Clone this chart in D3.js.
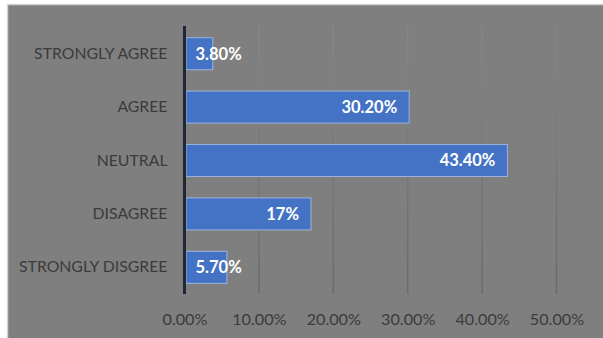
<!DOCTYPE html>
<html>
<head>
<meta charset="utf-8">
<script src="https://cdn.jsdelivr.net/npm/d3@7"></script>
<style>
  html, body { margin: 0; padding: 0; background: #ffffff; }
  svg { display: block; }
  text { font-family: Lato, "Open Sans", sans-serif; }
</style>
</head>
<body>
<script>
// Survey responses, top to bottom
const categories = ["STRONGLY AGREE", "AGREE", "NEUTRAL", "DISAGREE", "STRONGLY DISGREE"];
const values = [3.8, 30.2, 43.4, 17, 5.7];
const valueLabels = ["3.80%", "30.20%", "43.40%", "17%", "5.70%"];
const tickValues = [0, 10, 20, 30, 40, 50];

const W = 603, H = 338;
const svg = d3.select("body").append("svg").attr("width", W).attr("height", H);

// chart area panel
svg.append("rect")
  .attr("x", 7.5).attr("y", 4.5)
  .attr("width", W - 6).attr("height", H)
  .attr("fill", "#7f7f7f")
  .attr("stroke", "#d4d4d4").attr("stroke-width", 1.5);

const plot = { left: 184.5, right: 556.5, top: 27, bottom: 294 };

const x = d3.scaleLinear().domain([0, 50]).range([plot.left, plot.right]);
const y = d3.scaleBand().domain(categories).range([plot.top, plot.bottom]).paddingInner(0.4).paddingOuter(0.2);

// gridlines
const defs = svg.append("defs");
const grad = defs.append("linearGradient").attr("id", "gridGrad")
  .attr("gradientUnits", "userSpaceOnUse")
  .attr("x1", 0).attr("y1", plot.top).attr("x2", 0).attr("y2", plot.bottom);
grad.append("stop").attr("offset", "0%").attr("stop-color", "#868686");
grad.append("stop").attr("offset", "100%").attr("stop-color", "#6a6a6a");

svg.append("g")
  .selectAll("line")
  .data(tickValues.filter(d => d > 0))
  .join("line")
  .attr("x1", d => x(d)).attr("x2", d => x(d))
  .attr("y1", plot.top).attr("y2", plot.bottom)
  .attr("stroke", "url(#gridGrad)").attr("stroke-width", 1.5);

// x axis tick labels
const xAxis = d3.axisBottom(x).tickValues(tickValues).tickSize(0).tickPadding(0)
  .tickFormat(d => d.toFixed(2) + "%");
const gx = svg.append("g").attr("transform", `translate(0,${plot.bottom + 19})`).call(xAxis);
gx.select(".domain").remove();
gx.selectAll("text").attr("fill", "#3b3b3b").attr("font-size", 16.2);

// y axis category labels
const yAxis = d3.axisLeft(y).tickSize(0).tickPadding(17);
const gy = svg.append("g").attr("transform", `translate(${plot.left},0)`).call(yAxis);
gy.select(".domain").remove();
gy.selectAll("text").attr("fill", "#3b3b3b").attr("font-size", 15.8);

// bars
const bars = svg.append("g");
bars.selectAll("rect")
  .data(values)
  .join("rect")
  .attr("x", x(0) + 1.5)
  .attr("y", (d, i) => y(categories[i]))
  .attr("width", d => x(d) - x(0) - 1.5)
  .attr("height", y.bandwidth())
  .attr("fill", "#4472c4")
  .attr("stroke", "#9db4df").attr("stroke-width", 1);

// vertical axis line
svg.append("line")
  .attr("x1", plot.left).attr("x2", plot.left)
  .attr("y1", plot.top - 1).attr("y2", plot.bottom)
  .attr("stroke", "#1f2733").attr("stroke-width", 3);

// value labels, inside end of each bar
const labels = svg.append("g");
labels.selectAll("text")
  .data(values)
  .join("text")
  .attr("y", (d, i) => y(categories[i]) + y.bandwidth() / 2)
  .attr("dy", "0.36em")
  .attr("fill", "#ffffff")
  .attr("font-weight", "bold")
  .attr("font-size", 16.5)
  .text((d, i) => valueLabels[i])
  .each(function (d) {
    const el = d3.select(this);
    const w = this.getComputedTextLength();
    const end = x(d) - 12;
    if (end - w < x(0) + 11) {
      el.attr("x", x(0) + 11).attr("text-anchor", "start");
    } else {
      el.attr("x", end).attr("text-anchor", "end");
    }
  });
</script>
</body>
</html>
